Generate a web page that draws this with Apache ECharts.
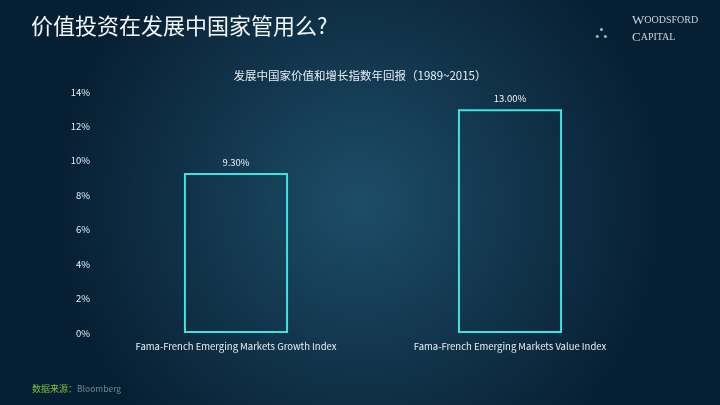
<!DOCTYPE html>
<html><head><meta charset="utf-8">
<script src="https://cdn.jsdelivr.net/npm/echarts@6/dist/echarts.min.js"></script>
<style>html,body{margin:0;padding:0;background:#0c2940;}#c{width:720px;height:405px;}</style>
</head><body><div id="c"></div>
<script>
const categories = ['Fama-French Emerging Markets Growth Index', 'Fama-French Emerging Markets Value Index'];
const values = [9.30, 13.00];
const yTicks = [0, 2, 4, 6, 8, 10, 12, 14];
const pageTitle = '价值投资在发展中国家管用么?';
const chartTitle = '发展中国家价值和增长指数年回报（1989~2015）';

const chart = echarts.init(document.getElementById('c'));
const font = '"Noto Sans CJK SC", "Open Sans", sans-serif';
const serif = '"Liberation Serif", serif';
chart.setOption({
  backgroundColor: {
    type: 'radial', x: 0.5, y: 0.5, r: 0.75,
    colorStops: [{offset: 0, color: '#1d4d68'}, {offset: 1, color: '#071f33'}]
  },
  title: {
    text: chartTitle, left: 'center', top: 65,
    textStyle: {color: '#e8eef2', fontSize: 11.5, fontWeight: 'normal', fontFamily: font}
  },
  graphic: [
    {type: 'text', left: 31, top: 15, style: {text: pageTitle, fill: '#f2f6f8', font: '22px ' + font}},
    {type: 'text', left: 632, top: 14, style: {
      text: '{a|W}{b|OODSFORD}\n{a|C}{b|APITAL}', fill: '#c9d3da',
      rich: {a: {fontSize: 13, fontFamily: serif, fill: '#c9d3da', lineHeight: 17},
             b: {fontSize: 10, fontFamily: serif, fill: '#c9d3da', lineHeight: 17}}}},
    {type: 'text', left: 595, top: 24, style: {text: '⛬', fill: '#aab6be', font: '18px "DejaVu Sans"'}},
    {type: 'text', left: 32, top: 384, style: {text: '数据来源：', fill: '#7fbf3f', font: '9px ' + font}},
    {type: 'text', left: 77, top: 385, style: {text: 'Bloomberg', fill: '#6f8796', font: '8.5px ' + font}}
  ],
  grid: {left: 99, right: 73, top: 92, bottom: 72},
  xAxis: {
    type: 'category', data: categories,
    axisLine: {show: false}, axisTick: {show: false},
    axisLabel: {color: '#e8eef2', fontSize: 9.5, fontFamily: font, margin: 9}
  },
  yAxis: {
    type: 'value', min: 0, max: 14, interval: 2,
    splitLine: {show: false}, axisLine: {show: false}, axisTick: {show: false},
    axisLabel: {color: '#e8eef2', fontSize: 9.5, fontFamily: font, margin: 9,
      formatter: v => yTicks.includes(v) ? v + '%' : ''}
  },
  series: [{
    type: 'bar', data: values, barWidth: '38%',
    itemStyle: {color: 'rgba(0,0,0,0)', borderColor: '#3fe3df', borderWidth: 2},
    label: {show: true, position: 'top', color: '#f0f4f6', fontSize: 9.5, fontFamily: font,
      distance: 6, formatter: p => p.value.toFixed(2) + '%'}
  }]
});
</script></body></html>
